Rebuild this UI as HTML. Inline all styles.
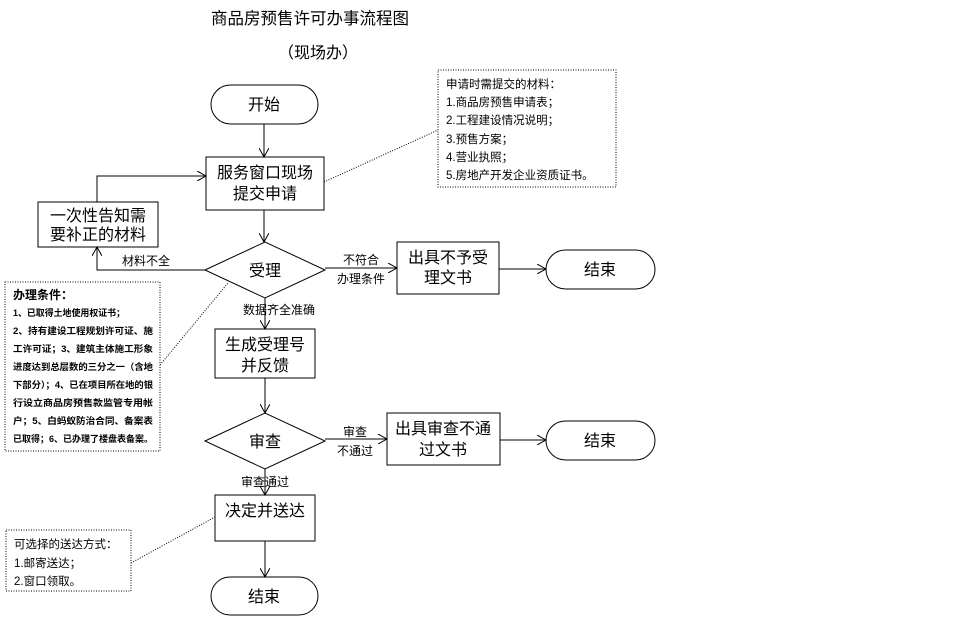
<!DOCTYPE html>
<html><head><meta charset="utf-8"><style>
body{margin:0;background:#fff;}
svg{display:block;font-family:"Liberation Sans","Noto Sans CJK SC",sans-serif;}
</style></head><body>
<svg width="957" height="619" viewBox="0 0 957 619" xmlns="http://www.w3.org/2000/svg">
<defs><marker id="a" markerWidth="10" markerHeight="10" refX="9" refY="5" orient="auto" markerUnits="userSpaceOnUse"><path d="M0,0 L9,5 L0,10" fill="none" stroke="#000" stroke-width="1"/></marker></defs>
<g fill="#000">
<text x="310" y="24" font-size="16.5" text-anchor="middle">商品房预售许可办事流程图</text>
<text x="318" y="58" font-size="16" text-anchor="middle">（现场办）</text>
</g>
<g fill="none" stroke="#000" stroke-width="1">
<rect x="211" y="85" width="107" height="39" rx="19.5"/>
<rect x="206" y="157" width="118" height="53"/>
<rect x="38" y="202" width="120" height="45"/>
<polygon points="205,270 265,242 325,270 265,298"/>
<rect x="397" y="242" width="102" height="52"/>
<rect x="546" y="250" width="109" height="39" rx="19.5"/>
<rect x="215" y="329" width="100" height="49"/>
<polygon points="205,441 265,413 325,441 265,469"/>
<rect x="387" y="413" width="113" height="52"/>
<rect x="546" y="421" width="109" height="39" rx="19.5"/>
<rect x="215" y="495" width="100" height="46"/>
<rect x="211" y="577" width="107" height="38" rx="19"/>
<line x1="264" y1="124" x2="264" y2="157" marker-end="url(#a)"/>
<polyline points="97,202 97,176 206,176" marker-end="url(#a)"/>
<line x1="264" y1="210" x2="264" y2="242" marker-end="url(#a)"/>
<polyline points="205,270 97,270 97,247" marker-end="url(#a)"/>
<line x1="325" y1="268" x2="397" y2="268" marker-end="url(#a)"/>
<line x1="499" y1="269" x2="546" y2="269" marker-end="url(#a)"/>
<line x1="265" y1="298" x2="265" y2="329" marker-end="url(#a)"/>
<line x1="265" y1="378" x2="265" y2="413" marker-end="url(#a)"/>
<line x1="325" y1="439" x2="387" y2="439" marker-end="url(#a)"/>
<line x1="500" y1="440" x2="546" y2="440" marker-end="url(#a)"/>
<line x1="265" y1="469" x2="265" y2="495" marker-end="url(#a)"/>
<line x1="265" y1="541" x2="265" y2="577" marker-end="url(#a)"/>
</g>
<g fill="none" stroke="#000" stroke-width="1" stroke-dasharray="1,1.5">
<rect x="438" y="70" width="178" height="117"/>
<rect x="5" y="282" width="155" height="169"/>
<rect x="6" y="530" width="125" height="61"/>
<line x1="324" y1="182" x2="438" y2="130"/>
<line x1="160" y1="365" x2="228" y2="283"/>
<line x1="131" y1="563" x2="215" y2="517"/>
</g>
<g fill="#000" font-size="16" text-anchor="middle">
<text x="264" y="110">开始</text>
<text x="265" y="178">服务窗口现场</text>
<text x="265" y="199">提交申请</text>
<text x="98" y="221">一次性告知需</text>
<text x="98" y="240">要补正的材料</text>
<text x="265" y="276">受理</text>
<text x="448" y="263">出具不予受</text>
<text x="448" y="283">理文书</text>
<text x="600" y="275">结束</text>
<text x="265" y="350">生成受理号</text>
<text x="265" y="371">并反馈</text>
<text x="265" y="447">审查</text>
<text x="443" y="434">出具审查不通</text>
<text x="443" y="455">过文书</text>
<text x="600" y="446">结束</text>
<text x="265" y="516">决定并送达</text>
<text x="264" y="602">结束</text>
</g>
<g fill="#000" font-size="12" text-anchor="middle">
<text x="146" y="265">材料不全</text>
<text x="361" y="264">不符合</text>
<text x="361" y="283">办理条件</text>
<text x="279" y="314">数据齐全准确</text>
<text x="355" y="436">审查</text>
<text x="355" y="455">不通过</text>
<text x="265" y="486">审查通过</text>
</g>
<g fill="#000" font-size="11.5">
<text x="446" y="88">申请时需提交的材料：</text>
<text x="446" y="106">1.商品房预售申请表；</text>
<text x="446" y="124">2.工程建设情况说明；</text>
<text x="446" y="143">3.预售方案；</text>
<text x="446" y="161">4.营业执照；</text>
<text x="446" y="179">5.房地产开发企业资质证书。</text>
<text x="14" y="548">可选择的送达方式：</text>
<text x="14" y="567">1.邮寄送达；</text>
<text x="14" y="585">2.窗口领取。</text>
</g>
<g fill="#000" font-size="9" font-weight="bold">
<text x="13" y="299" font-size="12">办理条件：</text>
<text x="13" y="316" textLength="112" lengthAdjust="spacingAndGlyphs">1、已取得土地使用权证书；</text>
<text x="13" y="334" textLength="140" lengthAdjust="spacingAndGlyphs">2、持有建设工程规划许可证、施</text>
<text x="13" y="352" textLength="140" lengthAdjust="spacingAndGlyphs">工许可证；3、建筑主体施工形象</text>
<text x="13" y="370" textLength="140" lengthAdjust="spacingAndGlyphs">进度达到总层数的三分之一（含地</text>
<text x="13" y="388" textLength="140" lengthAdjust="spacingAndGlyphs">下部分）；4、已在项目所在地的银</text>
<text x="13" y="406" textLength="140" lengthAdjust="spacingAndGlyphs">行设立商品房预售款监管专用帐</text>
<text x="13" y="424" textLength="140" lengthAdjust="spacingAndGlyphs">户；5、白蚂蚁防治合同、备案表</text>
<text x="13" y="442" textLength="140" lengthAdjust="spacingAndGlyphs">已取得；6、已办理了楼盘表备案。</text>
</g>
</svg>
</body></html>
